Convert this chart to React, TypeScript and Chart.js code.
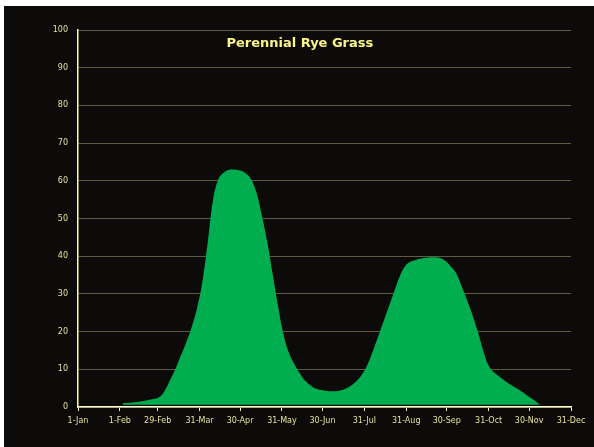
import React, { useEffect, useRef } from "react";
import { Chart, registerables } from "chart.js";

Chart.register(...registerables);

const TITLE = "Perennial Rye Grass";

const tickDays = [0, 31, 59, 90, 120, 151, 181, 212, 243, 273, 304, 334, 365];
const tickLabels = ["1-Jan", "1-Feb", "29-Feb", "31-Mar", "30-Apr", "31-May", "30-Jun", "31-Jul", "31-Aug", "30-Sep", "31-Oct", "30-Nov", "31-Dec"];

const growthDays = [
  33, 40, 47, 54, 60, 64, 68, 72, 76, 80, 84, 88, 92, 96, 100, 104, 108, 112, 116, 120,
  124, 128, 132, 136, 140, 144, 148, 152, 156, 160, 164, 168, 172, 176, 182, 188, 194, 200, 205, 210,
  214, 218, 222, 226, 230, 234, 238, 242, 246, 250, 256, 262, 268, 272, 276, 280, 284, 288, 292, 296,
  300, 304, 308, 314, 320, 326, 332, 338, 342,
];
const growthValues = [
  1.0, 1.2, 1.5, 2.0, 2.6, 4.2, 7, 10, 13.5, 17, 21, 26, 33, 43.5, 55, 60.5, 62.2, 62.9, 63, 62.7,
  62, 60.5, 57, 51, 44, 35.5, 27, 19.5, 14.5, 11.5, 9, 7, 5.8, 4.9, 4.4, 4.2, 4.4, 5.2, 6.5, 8.5,
  11, 14.5, 18.5, 22.5, 26.5, 30.5, 34.5, 37.3, 38.5, 39, 39.5, 39.7, 39.5, 38.7, 37.3, 35.5, 32, 28.4, 24.5, 20,
  15, 11, 9.2, 7.5, 6, 4.7, 3.2, 1.7, 0.6,
];

const FONT = "'Comic Sans MS', 'DejaVu Sans', sans-serif";
const TEXT = "#e6e29a";

export default function App() {
  const ref = useRef<HTMLCanvasElement | null>(null);

  useEffect(() => {
    if (!ref.current) return;
    const titlePlugin = {
      id: "inTitle",
      afterDraw(chart: any) {
        const { ctx, chartArea } = chart;
        ctx.save();
        ctx.font = `bold 13px ${FONT}`;
        ctx.fillStyle = "#fbf58a";
        ctx.textAlign = "center";
        ctx.textBaseline = "middle";
        const cx = chartArea.left + (chartArea.right - chartArea.left) * 0.45;
        ctx.fillText(TITLE, cx, chartArea.top + 14);
        ctx.restore();
      },
    };
    const chart = new Chart(ref.current, {
      type: "line",
      data: {
        datasets: [
          {
            label: TITLE,
            data: growthDays.map((d, i) => ({ x: d, y: growthValues[i] })),
            backgroundColor: "#00ae50",
            borderColor: "#00ae50",
            borderWidth: 0,
            pointRadius: 0,
            fill: { value: 0.6 },
            tension: 0.4,
          },
        ],
      },
      options: {
        animation: false,
        responsive: false,
        layout: { padding: { left: 0, top: 24, right: 23, bottom: 0 } },
        plugins: { legend: { display: false }, title: { display: false }, tooltip: { enabled: false } },
        scales: {
          x: {
            type: "linear",
            min: 0,
            max: 365,
            afterBuildTicks: (axis: any) => {
              axis.ticks = tickDays.map((v) => ({ value: v }));
            },
            afterFit: (axis: any) => {
              axis.height = 40;
            },
            ticks: {
              autoSkip: false,
              maxRotation: 0,
              padding: 5,
              color: TEXT,
              font: { family: FONT, size: 8 },
              callback: (v: any) => {
                const i = tickDays.indexOf(Number(v));
                return i >= 0 ? tickLabels[i] : "";
              },
            },
            grid: { drawOnChartArea: false, drawTicks: true, tickLength: 4, color: "#ffffcc" },
            border: { color: "#ffffd0", width: 1.5 },
          },
          y: {
            min: 0,
            max: 100,
            afterFit: (axis: any) => {
              axis.width = 74;
            },
            ticks: {
              stepSize: 10,
              padding: 10,
              color: TEXT,
              font: { family: FONT, size: 8 },
            },
            grid: { color: "#5e5b43", drawTicks: false, lineWidth: 1 },
            border: { color: "#ffff99", width: 1.5 },
          },
        },
      },
      plugins: [titlePlugin],
    });
    return () => chart.destroy();
  }, []);

  return (
    <div
      style={{
        position: "absolute",
        left: 4,
        top: 6,
        width: 590,
        height: 441,
        background: "#0c0b09",
      }}
    >
      <canvas ref={ref} width={590} height={441} style={{ display: "block" }} />
    </div>
  );
}
